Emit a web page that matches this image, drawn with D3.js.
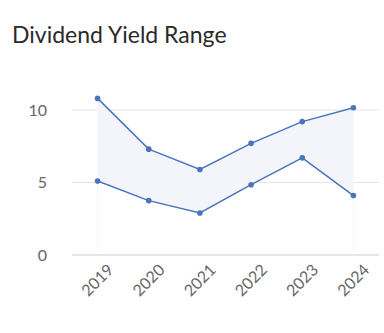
<!DOCTYPE html>
<html><head><meta charset="utf-8">
<script src="https://cdn.jsdelivr.net/npm/d3@7"></script>
<style>body{margin:0;background:#fff;}svg{display:block;font-family:Lato,"Open Sans",sans-serif;}</style>
</head><body>
<svg id="c" width="384" height="333"></svg>
<script>
const years = ["2019","2020","2021","2022","2023","2024"];
const highYield = [10.8, 7.3, 5.9, 7.7, 9.2, 10.15];
const lowYield = [5.1, 3.75, 2.9, 4.85, 6.7, 4.1];
const yTicks = [0, 5, 10];

const svg = d3.select("#c");
const x = d3.scaleBand().domain(years).range([72, 379]).padding(0);
const y = d3.scaleLinear().domain([0, 12]).range([255, 81]);
const cx = d => x(d) + x.bandwidth()/2;
const color = "#4a74bd";

svg.append("text").attr("x", 12).attr("y", 43).attr("font-size", 23).attr("fill", "#2a2a2a").text("Dividend Yield Range");

// grid
svg.append("g").selectAll("line").data(yTicks).join("line")
  .attr("x1", 72).attr("x2", 379).attr("y1", d => y(d)).attr("y2", d => y(d))
  .attr("stroke", d => d === 0 ? "#cccccc" : "#e4e4e4").attr("stroke-width", 1);
svg.append("g").selectAll("text").data(yTicks).join("text")
  .attr("x", 47).attr("y", d => y(d)).attr("dy", "0.36em").attr("text-anchor", "end")
  .attr("font-size", 16).attr("fill", "#666").text(d => d);

// band
const data = years.map((yr, i) => ({yr, hi: highYield[i], lo: lowYield[i]}));
svg.append("path").datum(data)
  .attr("d", d3.area().x(d => cx(d.yr)).y0(d => y(d.lo)).y1(d => y(d.hi)))
  .attr("fill", "#f3f5fa");
svg.append("g").selectAll("line").data([years[0], years[years.length-1]]).join("line")
  .attr("x1", d => cx(d)).attr("x2", d => cx(d)).attr("y1", d => y(lowYield[years.indexOf(d)])).attr("y2", y(0))
  .attr("stroke", "#f5f6fa");

[highYield, lowYield].forEach(vals => {
  svg.append("path").datum(vals)
    .attr("d", d3.line().x((d, i) => cx(years[i])).y(d => y(d)))
    .attr("fill", "none").attr("stroke", color).attr("stroke-width", 1.5);
  svg.append("g").selectAll("circle").data(vals).join("circle")
    .attr("cx", (d, i) => cx(years[i])).attr("cy", d => y(d)).attr("r", 2.8).attr("fill", color);
});

svg.append("g").selectAll("text").data(years).join("text")
  .attr("transform", d => `translate(${cx(d) + 13},${267}) rotate(-45)`)
  .attr("text-anchor", "end").attr("dy", "0.35em")
  .attr("font-size", 16).attr("fill", "#666").text(d => d);
</script>
</body></html>
